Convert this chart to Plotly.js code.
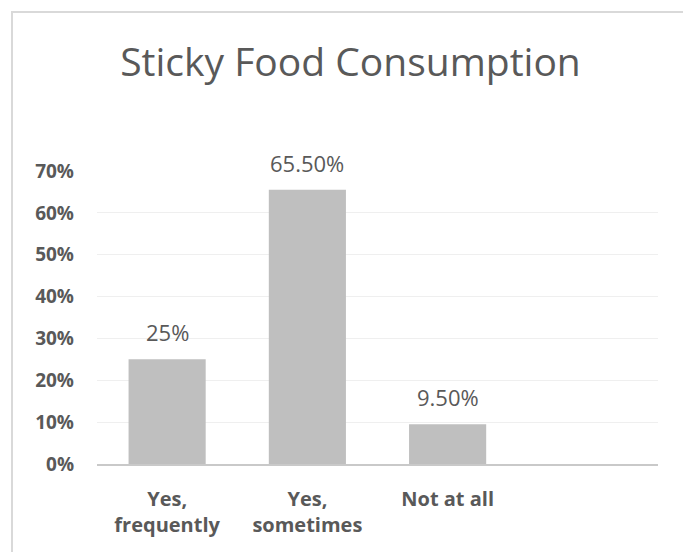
<!DOCTYPE html>
<html>
<head>
<meta charset="utf-8">
<script src="https://cdn.plot.ly/plotly-3.0.1.min.js"></script>
<style>
  html, body { margin: 0; padding: 0; background: #ffffff; }
  #wrap { position: relative; width: 683px; height: 552px; overflow: hidden; }
  #chart { position: absolute; left: 0; top: 0; width: 683px; height: 552px; }
  #frame { position: absolute; left: 11px; top: 11px; width: 720px; height: 620px;
           border: 2px solid #D9D9D9; pointer-events: none; box-sizing: border-box; }
</style>
</head>
<body>
<div id="wrap">
  <div id="chart"></div>
  <div id="frame"></div>
</div>
<script>
// ---- data ----
const chartTitle = "Sticky Food Consumption";
const categories = ["Yes,<br>frequently", "Yes,<br>sometimes", "Not at all"];
const values = [0.25, 0.655, 0.095];
const valueLabels = ["25%", "65.50%", "9.50%"];
const yTickVals = [0, 0.1, 0.2, 0.3, 0.4, 0.5, 0.6, 0.7];
const yTickText = ["0%", "10%", "20%", "30%", "40%", "50%", "60%", "70%"];

const positions = categories.map((c, i) => i);

const trace = {
  type: "bar",
  x: positions,
  y: values,
  width: 0.55,
  marker: { color: "#BFBFBF" },
  hoverinfo: "skip"
};

const annotations = positions.map((p, i) => ({
  x: p, y: values[i], xref: "x", yref: "y",
  text: valueLabels[i], showarrow: false,
  yanchor: "bottom", yshift: 10,
  font: { family: "Open Sans", size: 22, color: "#595959" }
}));

const layout = {
  width: 683, height: 552,
  margin: { l: 97, r: 25, t: 171, b: 88, pad: 0 },
  paper_bgcolor: "rgba(0,0,0,0)",
  plot_bgcolor: "rgba(0,0,0,0)",
  showlegend: false,
  title: {
    text: chartTitle,
    font: { family: "Open Sans", size: 39, color: "#595959" },
    xref: "container", yref: "container",
    x: 350.5 / 683, xanchor: "center",
    y: 1 - 62 / 552, yanchor: "middle"
  },
  xaxis: {
    range: [-0.5, 3.5],
    tickvals: positions,
    ticktext: categories,
    showgrid: false,
    zeroline: false,
    showline: true, linecolor: "#C9C9C9", linewidth: 2,
    ticks: "", ticklabelstandoff: 16,
    tickfont: { family: "Open Sans", size: 20, color: "#595959", weight: "bold" },
    fixedrange: true
  },
  yaxis: {
    range: [0, 0.7],
    tickvals: yTickVals,
    ticktext: yTickText,
    showgrid: true, gridcolor: "#EFEFEF", gridwidth: 1,
    zeroline: false, showline: false,
    ticks: "", ticklabelstandoff: 22,
    tickfont: { family: "Open Sans", size: 19, color: "#595959", weight: "bold" },
    fixedrange: true
  },
  annotations: annotations
};

Plotly.newPlot("chart", [trace], layout, { displayModeBar: false, staticPlot: true });
</script>
</body>
</html>
